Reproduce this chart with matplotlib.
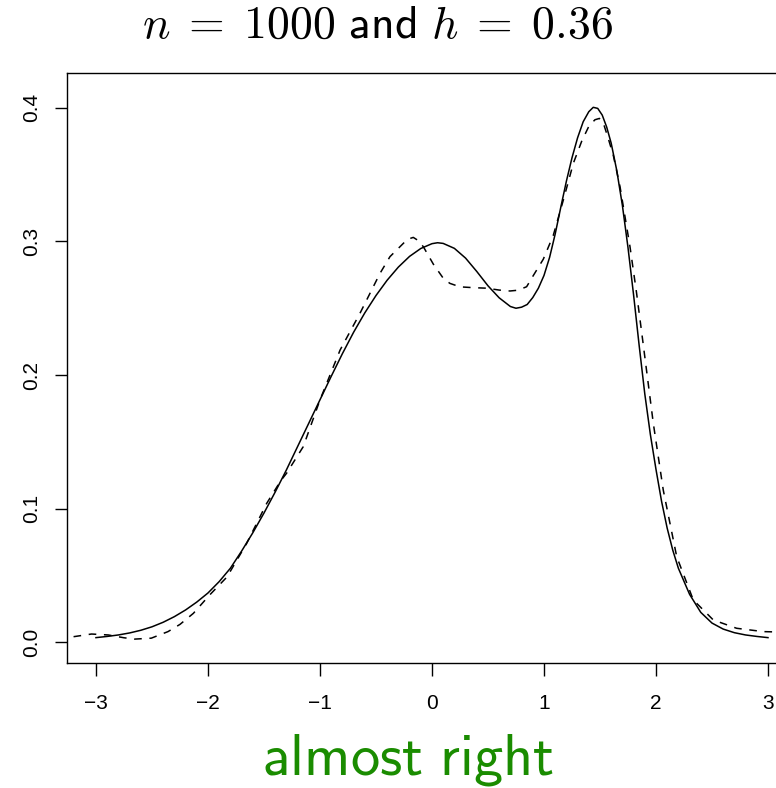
import matplotlib
matplotlib.use("Agg")
import matplotlib.pyplot as plt

plt.rcParams['mathtext.fontset'] = 'cm'
plt.rcParams['axes.unicode_minus'] = True

# true density (solid)
true_x = [-3.0, -2.9, -2.8, -2.7, -2.6, -2.5, -2.4, -2.3, -2.2, -2.1,
          -2.0, -1.9, -1.8, -1.7, -1.6, -1.5, -1.4, -1.3, -1.2, -1.1,
          -1.0, -0.9, -0.8, -0.7, -0.6, -0.5, -0.4, -0.3, -0.2, -0.1,
          0.0, 0.05, 0.1, 0.2, 0.3, 0.4, 0.5, 0.6, 0.7, 0.75,
          0.8, 0.85, 0.9, 0.95, 1.0, 1.05, 1.1, 1.15, 1.2, 1.25,
          1.3, 1.35, 1.4, 1.44, 1.48, 1.52, 1.56, 1.6, 1.65, 1.7,
          1.75, 1.8, 1.85, 1.9, 1.95, 2.0, 2.05, 2.1, 2.15, 2.2,
          2.3, 2.4, 2.5, 2.6, 2.7, 2.8, 2.9, 3.0]
true_y = [0.0036, 0.0045, 0.0056, 0.0071, 0.0091, 0.0117, 0.0151, 0.0193, 0.0243, 0.0302,
          0.0370, 0.0455, 0.0555, 0.0683, 0.0820, 0.0968, 0.1125, 0.1290, 0.1465, 0.1640,
          0.1815, 0.1990, 0.2160, 0.2320, 0.2465, 0.2595, 0.2710, 0.2808, 0.2888, 0.2947,
          0.2983, 0.2990, 0.2985, 0.2948, 0.2875, 0.2775, 0.2668, 0.2578, 0.2513, 0.2500,
          0.2508, 0.2528, 0.2580, 0.2650, 0.2745, 0.2880, 0.3055, 0.3255, 0.3450, 0.3625,
          0.3775, 0.3895, 0.3970, 0.4003, 0.3995, 0.3945, 0.3855, 0.3735, 0.3530, 0.3270,
          0.2955, 0.2600, 0.2220, 0.1860, 0.1555, 0.1295, 0.1055, 0.0855, 0.0690, 0.0555,
          0.0360, 0.0225, 0.0145, 0.0100, 0.0073, 0.0056, 0.0045, 0.0036]

# kernel estimate (dashed)
kde_x = [-3.2, -3.04, -2.89, -2.75, -2.655, -2.506, -2.357, -2.25, -2.13, -1.985,
         -1.83, -1.655, -1.476, -1.35, -1.298, -1.149, -1.0, -0.82, -0.643, -0.464,
         -0.375, -0.286, -0.22, -0.167, -0.12, -0.077, 0.012, 0.101, 0.16, 0.25,
         0.369, 0.488, 0.6, 0.696, 0.77, 0.845, 0.905, 0.994, 1.083, 1.173,
         1.262, 1.337, 1.4, 1.455, 1.495, 1.53, 1.574, 1.62, 1.679, 1.768,
         1.827, 1.881, 1.976, 2.065, 2.185, 2.333, 2.512, 2.72, 2.958, 3.1]
kde_y = [0.0043, 0.0063, 0.0056, 0.0035, 0.0025, 0.0032, 0.0081, 0.0135, 0.0218, 0.0355,
         0.0490, 0.0740, 0.1040, 0.1210, 0.1266, 0.1465, 0.1814, 0.2188, 0.2462, 0.2761,
         0.2886, 0.2960, 0.3015, 0.3030, 0.3005, 0.2960, 0.2830, 0.2724, 0.2686, 0.2660,
         0.2654, 0.2650, 0.2636, 0.2629, 0.2635, 0.2661, 0.2745, 0.2867, 0.3045, 0.3310,
         0.3584, 0.3750, 0.3860, 0.3910, 0.3920, 0.3885, 0.3770, 0.3640, 0.3409, 0.2960,
         0.2612, 0.2263, 0.1640, 0.1140, 0.0642, 0.0318, 0.0168, 0.0106, 0.0081, 0.0078]

x_ticks = [-3, -2, -1, 0, 1, 2, 3]
x_tick_labels = ["\u22123", "\u22122", "\u22121", "0", "1", "2", "3"]
y_ticks = [0.0, 0.1, 0.2, 0.3, 0.4]
y_tick_labels = ["0.0", "0.1", "0.2", "0.3", "0.4"]

W, H = 776, 788
fig = plt.figure(figsize=(W / 100, H / 100), dpi=100)
left, right, top, bottom = 67.3, 797.1, 72.7, 663.3
ax = fig.add_axes([left / W, (H - bottom) / H, (right - left) / W, (bottom - top) / H])

ax.plot(true_x, true_y, color='black', lw=1.1, solid_joinstyle='round')
ax.plot(kde_x, kde_y, color='black', lw=1.1, linestyle=(0, (5, 5)))

ax.set_xlim(-3.256, 3.26)
ax.set_ylim(-0.0156, 0.4262)
ax.set_xticks(x_ticks)
ax.set_xticklabels(x_tick_labels, fontfamily='Liberation Sans', fontsize=15)
ax.set_yticks(y_ticks)
ax.set_yticklabels(y_tick_labels, fontfamily='Liberation Sans', fontsize=15,
                   rotation=90, va='center')
ax.tick_params(axis='both', length=9, width=1.0, color='black')
ax.tick_params(axis='x', pad=13)
ax.tick_params(axis='y', pad=10)
for s in ax.spines.values():
    s.set_linewidth(1.0)

fig.text(378 / W, 1 - 38 / H, r"$n\;=\;1000\ \mathsf{and}\ h\;=\;0.36$",
         ha='center', va='baseline', fontsize=33)
fig.text(408 / W, 1 - 774 / H, r"$\mathsf{almost\ right}$", color='#1a8c00',
         ha='center', va='baseline', fontsize=42)

fig.savefig("out.png", dpi=100)
